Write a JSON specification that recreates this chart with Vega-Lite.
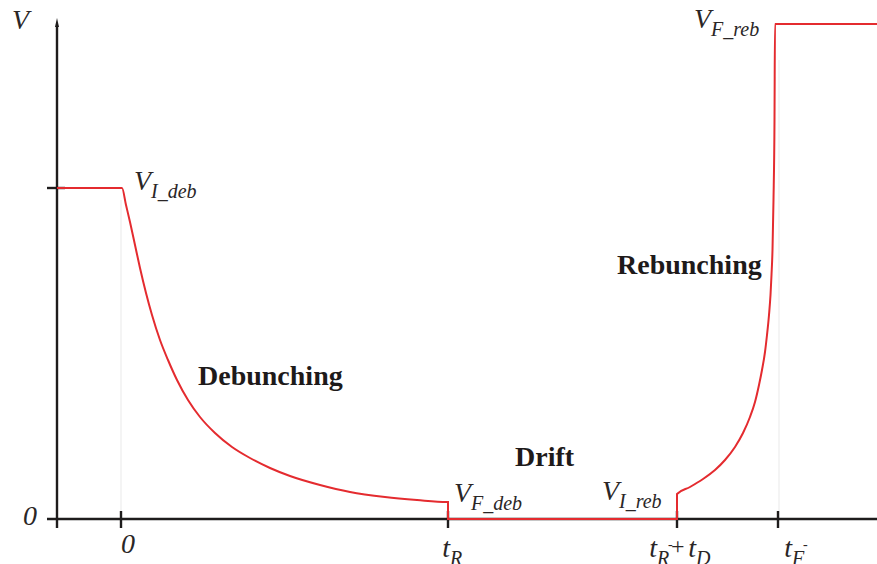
{
  "$schema": "https://vega.github.io/schema/vega-lite/v6.json",
  "width": 877,
  "height": 564,
  "padding": 0,
  "autosize": {"type": "none"},
  "background": "white",
  "config": {"view": {"stroke": null}},
  "datasets": {
    "guides": [
      {"t": 0, "v": 0, "v2": 0.96375},
      {"t": 2.01223, "v": 0, "v2": 1.38671}
    ],
    "axes": [
      {"name": "t axis", "t": -0.2263, "t2": 2.31193, "v": 0, "v2": 0},
      {"name": "V axis", "t": -0.19572, "t2": -0.19572, "v": -0.02719, "v2": 1.4864},
      {"name": "V_I_deb tick", "t": -0.2263, "t2": -0.17125, "v": 1, "v2": 1},
      {"name": "0 tick", "t": 0, "t2": 0, "v": 0.02417, "v2": -0.02719},
      {"name": "t_R tick", "t": 1, "t2": 1, "v": 0.02417, "v2": -0.02719},
      {"name": "t_R+t_D tick", "t": 1.70031, "t2": 1.70031, "v": 0.02417, "v2": -0.02719},
      {"name": "t_F tick", "t": 2.00917, "t2": 2.00917, "v": 0.02417, "v2": -0.02719}
    ],
    "arrow": [{"t": -0.19572, "v": 1.5}],
    "voltage": [
      {"i": 0, "t": -0.19572, "v": 1.0},
      {"i": 1, "t": 0.00306, "v": 1.0},
      {"i": 2, "t": 0.01529, "v": 0.94864},
      {"i": 3, "t": 0.02752, "v": 0.89728},
      {"i": 4, "t": 0.04281, "v": 0.82779},
      {"i": 5, "t": 0.0581, "v": 0.75831},
      {"i": 6, "t": 0.07645, "v": 0.68278},
      {"i": 7, "t": 0.0948, "v": 0.61631},
      {"i": 8, "t": 0.11927, "v": 0.54079},
      {"i": 9, "t": 0.14373, "v": 0.48036},
      {"i": 10, "t": 0.17125, "v": 0.41994},
      {"i": 11, "t": 0.20489, "v": 0.35952},
      {"i": 12, "t": 0.24159, "v": 0.30816},
      {"i": 13, "t": 0.28746, "v": 0.25982},
      {"i": 14, "t": 0.33945, "v": 0.21752},
      {"i": 15, "t": 0.3945, "v": 0.18429},
      {"i": 16, "t": 0.45566, "v": 0.15408},
      {"i": 17, "t": 0.51682, "v": 0.12991},
      {"i": 18, "t": 0.60856, "v": 0.10272},
      {"i": 19, "t": 0.70031, "v": 0.08157},
      {"i": 20, "t": 0.80734, "v": 0.06647},
      {"i": 21, "t": 0.9052, "v": 0.0574},
      {"i": 22, "t": 0.99694, "v": 0.05136},
      {"i": 23, "t": 0.99999, "v": 0.05136},
      {"i": 24, "t": 1.0, "v": 0},
      {"i": 25, "t": 1.70031, "v": 0},
      {"i": 26, "t": 1.70032, "v": 0.07553},
      {"i": 27, "t": 1.74006, "v": 0.09668},
      {"i": 28, "t": 1.77982, "v": 0.12085},
      {"i": 29, "t": 1.81651, "v": 0.14804},
      {"i": 30, "t": 1.8471, "v": 0.17825},
      {"i": 31, "t": 1.87768, "v": 0.21752},
      {"i": 32, "t": 1.90214, "v": 0.25982},
      {"i": 33, "t": 1.9235, "v": 0.30816},
      {"i": 34, "t": 1.93884, "v": 0.35347},
      {"i": 35, "t": 1.95107, "v": 0.40483},
      {"i": 36, "t": 1.96024, "v": 0.45015},
      {"i": 37, "t": 1.96942, "v": 0.50453},
      {"i": 38, "t": 1.97554, "v": 0.55589},
      {"i": 39, "t": 1.98165, "v": 0.61631},
      {"i": 40, "t": 1.98624, "v": 0.67674},
      {"i": 41, "t": 1.9893, "v": 0.73716},
      {"i": 42, "t": 1.99235, "v": 0.81269},
      {"i": 43, "t": 1.99541, "v": 0.96375},
      {"i": 44, "t": 1.99847, "v": 1.20544},
      {"i": 45, "t": 2.0, "v": 1.49547},
      {"i": 46, "t": 2.31193, "v": 1.49547}
    ],
    "labels": [
      {"part": "main", "text": "V", "t": -0.28135, "v": 1.48036},
      {"part": "main", "text": "V", "t": 0.09174, "v": 0.99396},
      {"part": "sub", "text": "I_deb", "t": 0.09174, "v": 0.99396},
      {"part": "main", "text": "V", "t": 1.07034, "v": 0.05136},
      {"part": "sub", "text": "F_deb", "t": 1.07034, "v": 0.05136},
      {"part": "main", "text": "V", "t": 1.52294, "v": 0.0574},
      {"part": "sub", "text": "I_reb", "t": 1.52294, "v": 0.0574},
      {"part": "main", "text": "V", "t": 1.80428, "v": 1.48338},
      {"part": "sub", "text": "F_reb", "t": 1.80428, "v": 1.48338},
      {"part": "main", "text": "0", "t": -0.25688, "v": -0.01813},
      {"part": "main", "text": "0", "t": 0.04281, "v": -0.10272},
      {"part": "main", "text": "t", "t": 1.00612, "v": -0.1148},
      {"part": "sub", "text": "R", "t": 1.00612, "v": -0.1148},
      {"part": "main", "text": "t", "t": 1.63914, "v": -0.1148},
      {"part": "sub", "text": "R", "t": 1.63914, "v": -0.1148},
      {"part": "sup", "text": "-", "t": 1.67278, "v": -0.09063},
      {"part": "op", "text": "+", "t": 1.68196, "v": -0.10574},
      {"part": "main", "text": "t", "t": 1.75841, "v": -0.1148},
      {"part": "sub", "text": "D", "t": 1.75841, "v": -0.1148},
      {"part": "main", "text": "t", "t": 2.05199, "v": -0.1148},
      {"part": "sub", "text": "F", "t": 2.05199, "v": -0.1148},
      {"part": "sup", "text": "-", "t": 2.08563, "v": -0.09063},
      {"part": "bold", "text": "Debunching", "t": 0.23547, "v": 0.40483},
      {"part": "bold", "text": "Drift", "t": 1.20489, "v": 0.16012},
      {"part": "bold", "text": "Rebunching", "t": 1.51682, "v": 0.74018}
    ]
  },
  "encoding": {
    "x": {"field": "t", "type": "quantitative", "axis": null,
          "scale": {"domain": [-0.37003, 2.31193], "nice": false, "zero": false}},
    "y": {"field": "v", "type": "quantitative", "axis": null,
          "scale": {"domain": [-0.13595, 1.56798], "nice": false, "zero": false}}
  },
  "layer": [
    {
      "data": {"name": "guides"},
      "mark": {"type": "rule", "stroke": "#e9e9e9", "strokeWidth": 1},
      "encoding": {"y2": {"field": "v2"}}
    },
    {
      "data": {"name": "axes"},
      "mark": {"type": "rule", "stroke": "#1e1c1c", "strokeWidth": 2.4},
      "encoding": {"x2": {"field": "t2"}, "y2": {"field": "v2"}}
    },
    {
      "data": {"name": "arrow"},
      "mark": {"type": "point", "shape": "M0,-1L0.45,1L-0.45,1Z", "size": 81,
               "filled": true, "fill": "#1e1c1c", "opacity": 1}
    },
    {
      "data": {"name": "voltage"},
      "mark": {"type": "line", "stroke": "#e42b2f", "strokeWidth": 2, "interpolate": "monotone"},
      "encoding": {"order": {"field": "i", "type": "quantitative"}}
    },
    {
      "data": {"name": "labels"},
      "transform": [{"filter": "datum.part === 'main'"}],
      "mark": {"type": "text", "font": "Liberation Serif", "fontStyle": "italic",
               "fontSize": 28, "align": "right", "baseline": "alphabetic", "fill": "#2a2626"},
      "encoding": {"text": {"field": "text"}}
    },
    {
      "data": {"name": "labels"},
      "transform": [{"filter": "datum.part === 'sub'"}],
      "mark": {"type": "text", "font": "Liberation Serif", "fontStyle": "italic",
               "fontSize": 20, "align": "left", "baseline": "alphabetic", "dy": 8, "fill": "#2a2626"},
      "encoding": {"text": {"field": "text"}}
    },
    {
      "data": {"name": "labels"},
      "transform": [{"filter": "datum.part === 'sup'"}],
      "mark": {"type": "text", "font": "Liberation Serif",
               "fontSize": 14, "align": "left", "baseline": "alphabetic", "fill": "#2a2626"},
      "encoding": {"text": {"field": "text"}}
    },
    {
      "data": {"name": "labels"},
      "transform": [{"filter": "datum.part === 'op'"}],
      "mark": {"type": "text", "font": "Liberation Serif",
               "fontSize": 24, "align": "left", "baseline": "alphabetic", "fill": "#2a2626"},
      "encoding": {"text": {"field": "text"}}
    },
    {
      "data": {"name": "labels"},
      "transform": [{"filter": "datum.part === 'bold'"}],
      "mark": {"type": "text", "font": "Liberation Serif", "fontWeight": "bold",
               "fontSize": 28, "align": "left", "baseline": "alphabetic", "fill": "#1e1a1a"},
      "encoding": {"text": {"field": "text"}}
    }
  ]
}
